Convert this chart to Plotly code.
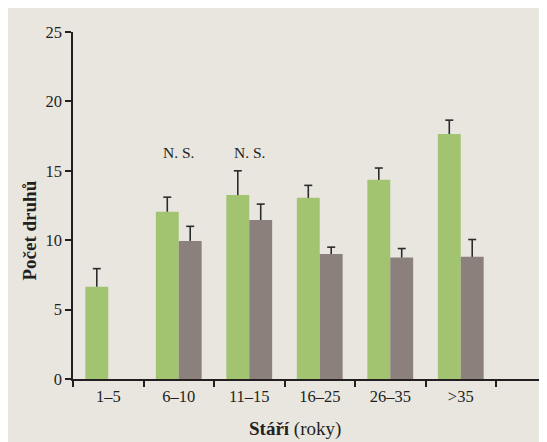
import plotly.graph_objects as go

categories = ["1–5", "6–10", "11–15", "16–25", "26–35", ">35"]
green_vals = [6.65, 12.05, 13.25, 13.05, 14.35, 17.65]
green_err = [1.3, 1.05, 1.75, 0.9, 0.85, 1.0]
gray_vals = [None, 9.95, 11.45, 9.0, 8.75, 8.8]
gray_err = [None, 1.05, 1.15, 0.5, 0.65, 1.25]
ns_categories = [1, 2]          # indices of the "6–10" and "11–15" groups
ns_label = "N. S."
y_tick_vals = [0, 5, 10, 15, 20, 25]
y_title = "Počet druhů"
x_title = "<b>Stáří</b> (roky)"

BG = "#e9e6e0"
GREEN = "#a2c370"
GRAY = "#8c807c"
INK = "#231f20"
FONT = "Liberation Serif"

W, H = 547, 442
L, R, T, B = 65, 0, 24, 71
pw, ph = W - L - R, H - T - B
cat_px = 70.5
BAR_W = 0.325
CAP = 4 / cat_px

idx = list(range(len(categories)))


def err_segments(vals, errs, shift):
    xs, ys = [], []
    for i, v, e in zip(idx, vals, errs):
        if v is None or e is None:
            continue
        xc = i + shift
        xs += [xc, xc, None, xc - CAP, xc + CAP, None]
        ys += [v, v + e, None, v + e, v + e, None]
    return xs, ys


fig = go.Figure()
fig.add_trace(go.Bar(x=idx, y=green_vals, width=BAR_W, offset=-BAR_W,
                     marker=dict(color=GREEN, line=dict(width=0)), showlegend=False))
fig.add_trace(go.Bar(x=idx, y=gray_vals, width=BAR_W, offset=0,
                     marker=dict(color=GRAY, line=dict(width=0)), showlegend=False))

for vals, errs, shift in [(green_vals, green_err, -BAR_W / 2), (gray_vals, gray_err, BAR_W / 2)]:
    xs, ys = err_segments(vals, errs, shift)
    fig.add_trace(go.Scatter(x=xs, y=ys, mode="lines", line=dict(color="#2b2b2b", width=1.6),
                             hoverinfo="skip", showlegend=False, cliponaxis=False))

for c in ns_categories:
    fig.add_annotation(x=c, y=16.35, text=ns_label, showarrow=False,
                       font=dict(family=FONT, size=15.5, color=INK),
                       xanchor="center", yanchor="middle")

fig.add_annotation(xref="paper", yref="paper", x=(295 - 73) / pw, y=(371 - 421) / ph,
                   text=x_title, showarrow=False, xanchor="center", yanchor="middle",
                   font=dict(family=FONT, size=19, color=INK))
fig.add_annotation(xref="paper", yref="paper", x=(28.5 - 73) / pw, y=(371 - 223) / ph,
                   text="<b>" + y_title + "</b>", showarrow=False, textangle=-90,
                   xanchor="center", yanchor="middle",
                   font=dict(family=FONT, size=19, color=INK))

x_end = -0.5 + pw / cat_px

fig.update_layout(
    width=W, height=H,
    margin=dict(l=L, r=R, t=T, b=B, pad=0),
    paper_bgcolor=BG, plot_bgcolor=BG,
    barmode="overlay",
    font=dict(family=FONT, size=16.5, color=INK),
    xaxis=dict(
        range=[-0.5, x_end], tickvals=idx, ticktext=categories,
        ticks="", showline=True, linecolor=INK, linewidth=1.5,
        showgrid=False, zeroline=False,
        minor=dict(tickvals=[i - 0.5 for i in idx] + [len(idx) - 0.5],
                   ticks="outside", ticklen=6, tickwidth=1.5, tickcolor=INK, showgrid=False),
        tickfont=dict(family=FONT, size=16.5, color=INK),
        ticklabelstandoff=1,
    ),
    yaxis=dict(
        range=[0, 25], tickvals=y_tick_vals,
        ticks="outside", ticklen=6, tickwidth=1.5, tickcolor=INK,
        showline=True, linecolor=INK, linewidth=1.5, showgrid=False, zeroline=False,
        tickfont=dict(family=FONT, size=16.5, color=INK),
    ),
)

fig.write_html("out.html")
